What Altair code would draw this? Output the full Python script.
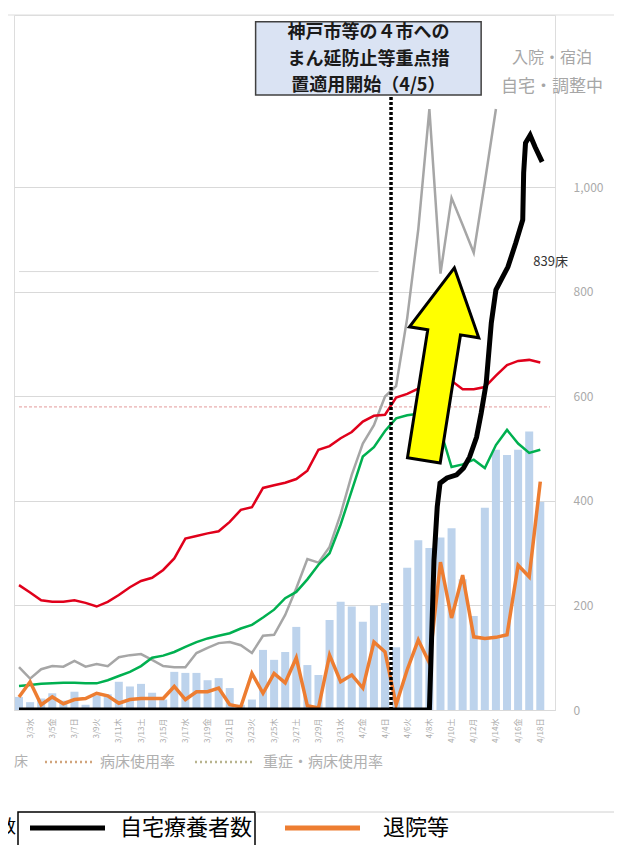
import altair as alt
import pandas as pd

FONT = "Noto Sans CJK JP"

# ---- daily data, 2021-03-02 .. 2021-04-18 ----
dates = pd.date_range("2021-03-02", "2021-04-18", freq="D").strftime("%Y-%m-%dT00:00").tolist()

bar_values = [25, 15, 22, 32, 18, 35, 10, 28, 30, 54, 45, 50, 33, 20, 73, 71, 71, 57, 61, 42,
              10, 20, 115, 96, 111, 159, 86, 67, 172, 207, 198, 169, 200, 205, 120, 272, 325, 310,
              330, 348, 250, 180, 387, 498, 488, 498, 533, 398]

red_values = [239, 225, 210, 207, 207, 210, 205, 198, 207, 220, 235, 247, 253, 268, 290, 328, 333,
              338, 342, 360, 383, 388, 425, 430, 435, 442, 458, 498, 505, 520, 532, 552, 563, 565,
              598, 605, 615, 628, 636, 630, 614, 614, 618, 640, 660, 668, 670, 665]

green_values = [46, 48, 50, 51, 52, 52, 51, 51, 57, 65, 73, 84, 100, 104, 111, 121, 130, 137, 142,
                147, 156, 163, 177, 192, 214, 226, 250, 278, 300, 355, 420, 485, 503, 534, 558, 564,
                567, 560, 535, 465, 470, 479, 463, 507, 536, 510, 492, 498]

grey_values = [82, 60, 78, 84, 83, 94, 83, 88, 84, 101, 105, 107, 96, 84, 82, 82, 109, 119, 128,
               130, 124, 109, 142, 144, 182, 233, 289, 282, 312, 375, 450, 510, 545, 600, 620, 750,
               920, 1150, 835, 980, 928, 875, 1010, 1150, None, None, None, None]

orange_values = [25, 54, 10, 25, 12, 20, 22, 32, 27, 13, 20, 22, 22, 22, 45, 20, 35, 35, 42, 10, 6,
                 70, 32, 70, 52, 100, 8, 4, 105, 54, 67, 42, 130, 111, 10, 77, 134, 90, 283, 176,
                 258, 140, 137, 139, 144, 277, 255, 437]

# hand-drawn home-care line (自宅療養者数)
home_times = ["2021-03-02T00:00", "2021-04-08T00:00", "2021-04-08T10:00", "2021-04-08T17:00",
              "2021-04-08T23:00", "2021-04-09T14:00", "2021-04-10T11:00", "2021-04-11T02:00",
              "2021-04-11T15:00", "2021-04-12T06:00", "2021-04-12T16:00", "2021-04-13T03:00",
              "2021-04-13T14:00", "2021-04-14T00:00", "2021-04-15T02:00", "2021-04-15T19:00",
              "2021-04-16T10:00", "2021-04-16T12:00", "2021-04-16T16:00", "2021-04-17T02:00",
              "2021-04-17T13:00", "2021-04-18T04:00"]
home_values = [0, 0, 287, 389, 434, 444, 450, 463, 484, 522, 568, 626, 741, 804, 848, 894, 938,
               1028, 1085, 1100, 1077, 1049]

tick_labels = ["3/3水", "3/5金", "3/7日", "3/9火", "3/11木", "3/13土", "3/15月", "3/17水",
               "3/19金", "3/21日", "3/23火", "3/25木", "3/27土", "3/29月", "3/31水", "4/2金",
               "4/4日", "4/6火", "4/8木", "4/10土", "4/12月", "4/14水", "4/16金", "4/18日"]

y_ticks = [0, 200, 400, 600, 800, 1000]

note_lines = ["神戸市等の４市への", "まん延防止等重点措", "置適用開始（4/5）"]
note_line_values = [1295, 1244, 1195]

# ---- frames ----
def series(vals):
    return pd.DataFrame({"t": dates, "v": vals})

df_bar = series(bar_values)
df_red = series(red_values)
df_green = series(green_values)
df_grey = series(grey_values)
df_orange = series(orange_values)
df_home = pd.DataFrame({"t": home_times, "v": home_values})

tick_vals = []
for lab in tick_labels:
    m, d = lab[:-1].split("/")
    tick_vals.append(alt.DateTime(year=2021, month=int(m), date=int(d)))
label_map = ",".join("'%s':'%s'" % (lab[:-1], lab) for lab in tick_labels)
label_expr = "{" + label_map + "}[(month(datum.value)+1)+'/'+date(datum.value)]"

xscale = alt.Scale(domain=[alt.DateTime(year=2021, month=3, date=2),
                           alt.DateTime(year=2021, month=4, date=18, hours=21)])
yscale = alt.Scale(domain=[0, 1330], nice=False)

xaxis = alt.Axis(values=tick_vals, labelExpr=label_expr, labelAngle=270, labelFontSize=8,
                 labelColor="#aaaaaa", ticks=False, grid=False, domainColor="#d9d9d9",
                 labelPadding=8, title=None, labelFont=FONT)
yaxis = alt.Axis(orient="right", values=y_ticks, format=",.0f", grid=True, gridColor="#d9d9d9",
                 domain=False, ticks=False, labelColor="#aaaaaa", labelFontSize=12,
                 labelPadding=18, title=None, labelFont=FONT)

X = alt.X("t:T", scale=xscale, axis=xaxis)
Y = alt.Y("v:Q", scale=yscale, axis=yaxis)

bars = alt.Chart(df_bar).mark_bar(size=8, color="#bdd3ec", clip=True).encode(x=X, y=Y)

def line(df, color, w):
    return alt.Chart(df).mark_line(color=color, strokeWidth=w, clip=True).encode(x=X, y=Y)

# reference lines
df_cap = pd.DataFrame({"t": ["2021-03-02T00:00"], "t2": ["2021-04-03T10:00"], "v": [839]})
cap_rule = alt.Chart(df_cap).mark_rule(color="#d9d9d9", strokeWidth=1).encode(
    x=X, x2="t2:T", y=Y)
df_rate = pd.DataFrame({"t": ["2021-03-02T00:00"], "t2": ["2021-04-18T21:00"], "v": [580]})
rate_rule = alt.Chart(df_rate).mark_rule(color="#e39a9a", strokeWidth=1, strokeDash=[3, 2]).encode(
    x=X, x2="t2:T", y=Y)

# dotted vertical line at 4/5
df_v = pd.DataFrame({"t": ["2021-04-04T13:00"], "v": [0], "v2": [1177]})
vrule = alt.Chart(df_v).mark_rule(color="#000000", strokeWidth=3.5, strokeDash=[3, 2]).encode(
    x=X, y=Y, y2="v2:Q")

# annotation box
df_box = pd.DataFrame({"t": ["2021-03-23T08:00"], "t2": ["2021-04-12T16:00"],
                       "v": [1177], "v2": [1317]})
box = alt.Chart(df_box).mark_rect(fill="#dae3f3", stroke="#404040", strokeWidth=1.5).encode(
    x=X, x2="t2:T", y=Y, y2="v2:Q")
df_note = pd.DataFrame({"t": ["2021-04-02T12:00"] * 3, "v": note_line_values, "txt": note_lines})
note = alt.Chart(df_note).mark_text(font=FONT, fontSize=18, fontWeight="bold", color="#1a1a1a",
                                    align="center", baseline="middle").encode(x=X, y=Y, text="txt:N")

# yellow arrow
arrow_path = "M0,-1L0.36,-0.33L0.17,-0.33L0.17,1L-0.17,1L-0.17,-0.33L-0.36,-0.33Z"
df_arrow = pd.DataFrame({"t": ["2021-04-08T21:00"], "v": [662]})
arrow = alt.Chart(df_arrow).mark_point(shape=arrow_path, size=38000, angle=9, filled=True,
                                       fill="#ffff00", stroke="#000000", strokeWidth=3,
                                       opacity=1, fillOpacity=1, strokeOpacity=1).encode(x=X, y=Y)

df_839 = pd.DataFrame({"t": ["2021-04-17T09:00"], "v": [857], "txt": ["839床"]})
label839 = alt.Chart(df_839).mark_text(font=FONT, fontSize=13, color="#333333", align="left",
                                       baseline="middle").encode(x=X, y=Y, text="txt:N")

# ---- legend / frame furniture (pixel positions) ----
one = pd.DataFrame({"a": [0]})

def ptext(x, y, s, size, color, align="left", weight="normal"):
    return alt.Chart(one).mark_text(font=FONT, fontSize=size, color=color, align=align,
                                    baseline="middle", fontWeight=weight).encode(
        x=alt.value(x), y=alt.value(y), text=alt.value(s))

def prule(x, x2, y, color, w, dash=None):
    kw = dict(color=color, strokeWidth=w)
    if dash:
        kw["strokeDash"] = dash
    return alt.Chart(one).mark_rule(**kw).encode(x=alt.value(x), x2=alt.value(x2), y=alt.value(y))

top_frame = prule(-6, 600, 0, "#dddddd", 1)
leg_top1 = ptext(538, 43, "入院・宿泊", 16, "#a6a6a6", align="center")
leg_top2 = ptext(538, 72, "自宅・調整中", 17, "#a6a6a6", align="center")

row1_y = 747
r1 = [
    ptext(0, row1_y, "床", 14, "#b0b0b0"),
    prule(31, 81, row1_y, "#d1a57c", 2.5, [2, 3]),
    ptext(86, row1_y, "病床使用率", 15, "#b0b0b0"),
    prule(181, 241, row1_y, "#b8b48e", 2.5, [2, 3]),
    ptext(249, row1_y, "重症・病床使用率", 15, "#b0b0b0"),
]

row2_y = 813
legend_box = alt.Chart(one).mark_rect(fillOpacity=0, stroke="#000000", strokeWidth=1.5).encode(
    x=alt.value(4), x2=alt.value(241), y=alt.value(797), y2=alt.value(845))
r2 = [
    ptext(2, row2_y, "数", 18, "#000000", align="right"),
    legend_box,
    prule(16, 91, row2_y, "#000000", 5),
    ptext(106, row2_y, "自宅療養者数", 22, "#000000"),
    prule(271, 346, row2_y, "#ed7d31", 5),
    ptext(369, row2_y, "退院等", 22, "#000000"),
    prule(241, 600, 797, "#d0d0d0", 1),
]

chart = alt.layer(
    bars,
    cap_rule,
    rate_rule,
    line(df_grey, "#a6a6a6", 2.5),
    line(df_green, "#00b050", 2.5),
    line(df_red, "#e0001b", 2.5),
    line(df_orange, "#ed7d31", 3.5),
    line(df_home, "#000000", 5),
    vrule,
    box,
    note,
    arrow,
    label839,
    top_frame,
    leg_top1,
    leg_top2,
    *r1,
    *r2,
).properties(
    width=541,
    height=695,
    padding={"left": 6, "top": 7, "right": 59, "bottom": 135},
    autosize=alt.AutoSizeParams(type="none"),
).configure_view(stroke=None).configure(font=FONT)

chart.save("out.html", embed_options={"renderer": "svg", "actions": False})
